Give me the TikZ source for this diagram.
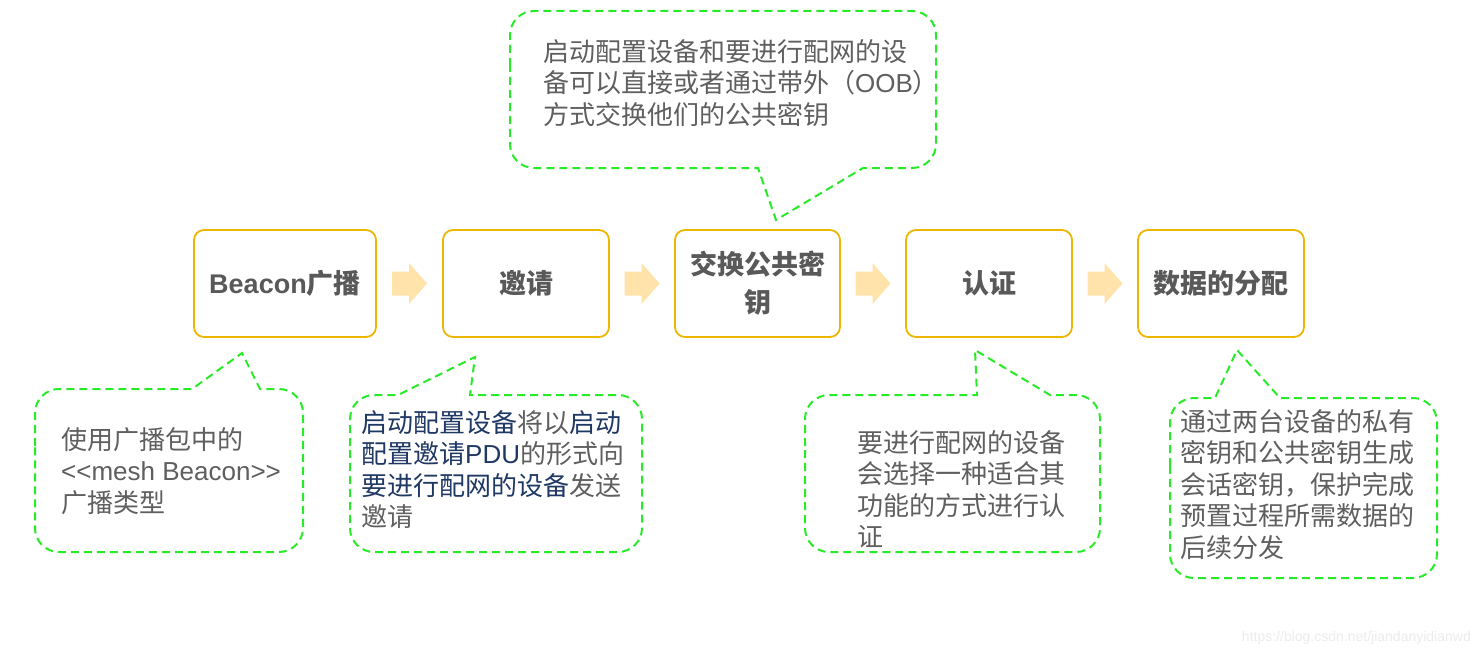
\documentclass[tikz,border=0pt]{standalone}
\usepackage{fontspec}
\setmainfont{Noto Sans CJK SC}
\newfontfamily\lat{Liberation Sans}
\usetikzlibrary{calc}

\definecolor{boxline}{RGB}{235,183,0}
\definecolor{arrowfill}{RGB}{255,227,170}
\definecolor{dashgreen}{RGB}{40,235,40}
\definecolor{boxtext}{RGB}{89,89,89}
\definecolor{calltext}{RGB}{95,95,95}
\definecolor{navy}{RGB}{31,56,100}
\definecolor{wmark}{RGB}{236,236,236}

\tikzset{
  stepbox/.style={draw=boxline, line width=1.8pt, rounded corners=10pt, fill=white,
    minimum height=107pt, text=boxtext, font=\fontsize{27}{38}\selectfont\bfseries,
    align=center, inner sep=0pt},
  callline/.style={draw=dashgreen, line width=2pt, dash pattern=on 8pt off 5pt},
  calltxt/.style={anchor=north west, inner sep=0pt, align=left, text=calltext,
    font=\fontsize{26}{31.5}\selectfont},
  blockarrow/.style={fill=arrowfill},
}
\newcommand\blockarr[2]{%
  \fill[blockarrow] ($(#1.east)!0.5!(#2.west)$) ++(-17.5,-12) -- ++(17,0) -- ++(0,-8.5)
    -- ++(18,20.5) -- ++(-18,20.5) -- ++(0,-8.5) -- ++(-17,0) -- cycle;}
\newcommand\nv[1]{\textcolor{navy}{#1}}

\begin{document}
\begin{tikzpicture}[x=1pt,y=-1pt]
\fill[white] (0,0) rectangle (1480,658);
\useasboundingbox (0,0) rectangle (1480,658);

% step boxes
\node[stepbox, minimum width=182pt] (b1) at (285,283.5) {{\lat Beacon}广播};
\node[stepbox, minimum width=166pt] (b2) at (526,283.5) {邀请};
\node[stepbox, minimum width=165pt] (b3) at (757.5,283.5) {交换公共密\\钥};
\node[stepbox, minimum width=166pt] (b4) at (989,283.5) {认证};
\node[stepbox, minimum width=166pt] (b5) at (1221,283.5) {数据的分配};

% block arrows
\blockarr{b1}{b2}
\blockarr{b2}{b3}
\blockarr{b3}{b4}
\blockarr{b4}{b5}

% top callout
\draw[callline] (510,90) [rounded corners=24pt] -- (510,11) -- (936,11) -- (936,168)
  [sharp corners] -- (863,168) -- (776,220) -- (758,168) [rounded corners=24pt] -- (510,168) -- cycle;
\node[calltxt] (t0) at (543,39) {启动配置设备和要进行配网的设\\备可以直接或者通过带外（{\lat OOB}）\\方式交换他们的公共密钥};

% callout 1
\draw[callline] (35,470) [rounded corners=24pt] -- (35,389) [sharp corners] -- (192,389)
  -- (242,353) -- (260,389) [rounded corners=24pt] -- (303,389) -- (303,552) -- (35,552) -- cycle;
\node[calltxt] (t1) at (61,427) {使用广播包中的\\{\lat <{}<mesh Beacon>{}>}\\广播类型};

% callout 2
\draw[callline] (350,470) [rounded corners=24pt] -- (350,395) [sharp corners] -- (398,395)
  -- (475,357) -- (470,395) [rounded corners=24pt] -- (642,395) -- (642,552) -- (350,552) -- cycle;
\node[calltxt] (t2) at (361,410) {\nv{启动配置设备}将以\nv{启动}\\\nv{配置邀请{\lat PDU}}的形式向\\\nv{要进行配网的设备}发送\\邀请};

% callout 4
\draw[callline] (805,470) [rounded corners=24pt] -- (805,395) [sharp corners] -- (977,395)
  -- (975,350) -- (1050,395) [rounded corners=24pt] -- (1100,395) -- (1100,552) -- (805,552) -- cycle;
\node[calltxt] (t4) at (857,430) {要进行配网的设备\\会选择一种适合其\\功能的方式进行认\\证};

% callout 5
\draw[callline] (1170,490) [rounded corners=24pt] -- (1170,398) [sharp corners] -- (1215,398)
  -- (1237,350) -- (1280,398) [rounded corners=24pt] -- (1437,398) -- (1437,578) -- (1170,578) -- cycle;
\node[calltxt] (t5) at (1180,409) {通过两台设备的私有\\密钥和公共密钥生成\\会话密钥，保护完成\\预置过程所需数据的\\后续分发};

% watermark
\node[anchor=east, inner sep=0pt, text=wmark, font=\lat\fontsize{14}{16}\selectfont] (wm) at (1471,638) {https://blog.csdn.net/jiandanyidianwd};
\end{tikzpicture}
\end{document}
